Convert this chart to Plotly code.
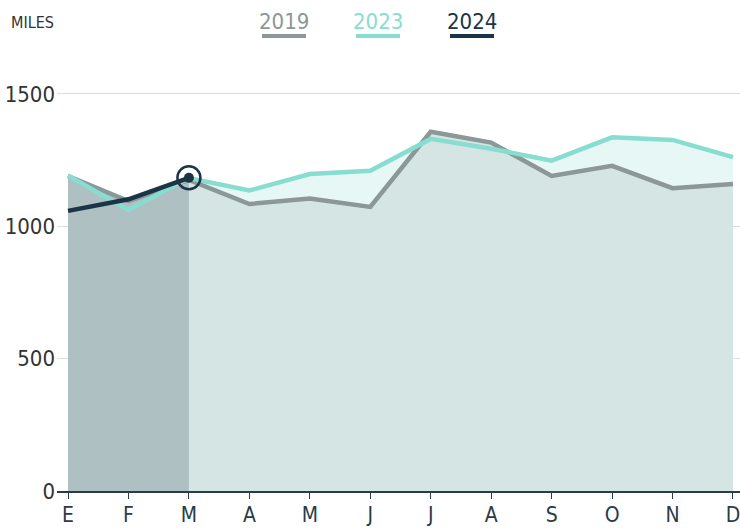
import plotly.graph_objects as go

months = ["E", "F", "M", "A", "M", "J", "J", "A", "S", "O", "N", "D"]
miles_2019 = [1190, 1095, 1175, 1084, 1105, 1073, 1357, 1316, 1190, 1228, 1144, 1160]
miles_2023 = [1192, 1062, 1182, 1135, 1197, 1210, 1330, 1293, 1248, 1336, 1326, 1261]
miles_2024 = [1058, 1102, 1183]
y_ticks = [0, 500, 1000, 1500]
legend_years = ["2019", "2023", "2024"]

C19, C23, C24 = "#8c9797", "#86ddd0", "#1b3446"
F19, F23, F24 = "#d4e5e3", "#e7f7f6", "#aec0c1"
FONT = "DejaVu Sans Condensed, Liberation Sans Narrow, Roboto, sans-serif"

x = list(range(len(months)))
x24 = x[:len(miles_2024)]

fig = go.Figure()
# fills
fig.add_trace(go.Scatter(x=x, y=miles_2023, fill="tozeroy", fillcolor=F23,
                         mode="none", hoverinfo="skip"))
fig.add_trace(go.Scatter(x=x, y=miles_2019, fill="tozeroy", fillcolor=F19,
                         mode="none", hoverinfo="skip"))
fig.add_trace(go.Scatter(x=x24, y=miles_2019[:len(miles_2024)], fill="tozeroy",
                         fillcolor=F24, mode="none", hoverinfo="skip"))
# lines
fig.add_trace(go.Scatter(x=x, y=miles_2019, mode="lines",
                         line=dict(color=C19, width=4.5)))
fig.add_trace(go.Scatter(x=x, y=miles_2023, mode="lines",
                         line=dict(color=C23, width=4.5)))
fig.add_trace(go.Scatter(x=x24, y=miles_2024, mode="lines",
                         line=dict(color=C24, width=4.5)))
# highlight marker on last 2024 point
fig.add_trace(go.Scatter(x=[x24[-1]], y=[miles_2024[-1]], mode="markers",
                         marker=dict(size=23, color="rgba(0,0,0,0)",
                                     line=dict(color=C24, width=2.5))))
fig.add_trace(go.Scatter(x=[x24[-1]], y=[miles_2024[-1]], mode="markers",
                         marker=dict(size=10, color=C24, line=dict(width=0))))

fig.update_layout(
    width=740, height=528,
    margin=dict(l=57, r=0, t=60, b=37, autoexpand=False),
    paper_bgcolor="white", plot_bgcolor="white",
    showlegend=False,
    font=dict(family=FONT, size=22, color="#333333"),
)
fig.update_xaxes(
    range=[-0.182, 11.116], tickvals=x, ticktext=months, automargin=False,
    showgrid=False, zeroline=False,
    showline=True, linecolor="#2a3b4a", linewidth=1.5,
    ticks="outside", ticklen=6, tickcolor="#2a3b4a", tickwidth=1.2,
    ticklabelstandoff=-2, ticklabeloverflow="allow",
    tickfont=dict(family=FONT, size=21, color="#2a3b4a"),
)
fig.update_yaxes(
    range=[0, 1628], tickvals=y_ticks, automargin=False,
    showgrid=True, gridcolor="#dddddd", gridwidth=1,
    zeroline=False, showline=False, ticks="",
    ticklabelstandoff=1, ticklabeloverflow="allow",
    tickfont=dict(family=FONT, size=22, color="#333333"),
)

# header: unit label
fig.add_annotation(text="MILES", xref="paper", yref="paper", x=-48/683, y=1 + 38/431,
                   xanchor="left", yanchor="middle", showarrow=False,
                   font=dict(family=FONT, size=16, color="#333333"))
# legend
leg_colors = [C19, C23, C24]
leg_cx = [284, 378, 472]
for yr, col, cx in zip(legend_years, leg_colors, leg_cx):
    px = (cx - 57) / 683
    fig.add_annotation(text=yr, xref="paper", yref="paper", x=px, y=1 + 39/431,
                       xanchor="center", yanchor="middle", showarrow=False,
                       font=dict(family=FONT, size=22, color=col))
    fig.add_shape(type="line", xref="paper", yref="paper",
                  x0=(cx - 22 - 57) / 683, x1=(cx + 22 - 57) / 683,
                  y0=1 + 24/431, y1=1 + 24/431,
                  line=dict(color=col, width=4))

fig.write_html("out.html", config={"displayModeBar": False},
               post_script="document.body.style.margin='0';document.body.style.overflow='hidden';")
